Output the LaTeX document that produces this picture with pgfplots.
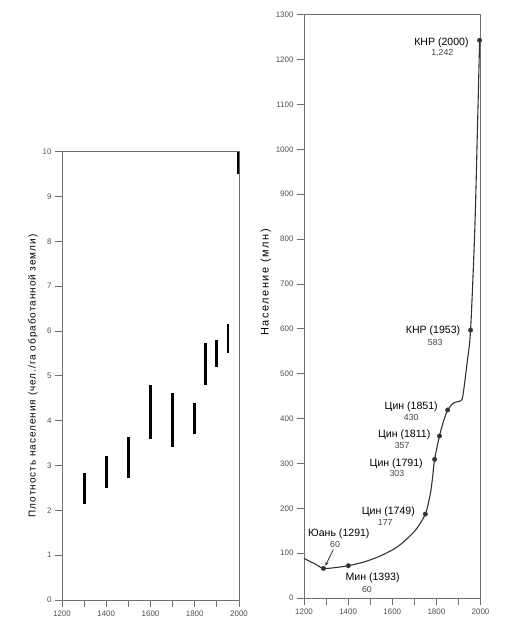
\documentclass[border=0pt]{standalone}
\usepackage{fontspec}
\setmainfont{Liberation Sans}
\newfontfamily\labfont[LetterSpace=10]{Liberation Sans}
\newfontfamily\labfontb[LetterSpace=14]{Liberation Sans}
\usepackage{pgfplots}
\pgfplotsset{compat=1.18}
\usetikzlibrary{arrows.meta}
\definecolor{axgray}{HTML}{707070}
\definecolor{tickgray}{HTML}{505050}
\definecolor{curvegray}{HTML}{333333}
\definecolor{valgray}{HTML}{444444}
\pgfplotsset{
  myaxis/.style={
    scale only axis,
    axis line style={draw=axgray, line width=0.8bp},
    tick style={draw=axgray, line width=0.8bp},
    tick align=outside,
    major tick length=7bp,
    xtick pos=bottom, ytick pos=left,
    ticklabel style={font=\fontsize{8}{9}\selectfont, text=tickgray},
    /pgf/number format/1000 sep={},
    /pgf/number format/assume math mode=true,
    xmin=1200, xmax=2000,
    xtick={1200,1300,...,2000},
    xticklabels={1200,,1400,,1600,,1800,,2000},
  }
}
\newcommand{\lab}[4]{%
  \node[font=\fontsize{10.6}{11}\selectfont, text=black] at (axis cs:#1) {#2};
  \node[font=\fontsize{8.8}{9}\selectfont, text=valgray] at (axis cs:#3) {#4};}
\begin{document}
\begin{tikzpicture}[x=1bp,y=1bp]
\useasboundingbox (0,0) rectangle (508,622);
% ---------- left: density ----------
\begin{axis}[myaxis,
  at={(62bp,22bp)}, anchor=south west,
  width=177bp, height=448.3bp,
  ymin=0, ymax=10, ytick={0,1,...,10},
  ylabel={\labfont Плотность населения (чел./га обработанной земли)},
  ylabel style={at={(axis description cs:-0.164,0.5)}, anchor=center, font=\fontsize{10}{11}\selectfont},
]
\addplot[black, line width=2.8bp, no marks] coordinates {(1300,2.15) (1300,2.83)};
\addplot[black, line width=2.8bp, no marks] coordinates {(1400,2.49) (1400,3.22)};
\addplot[black, line width=2.8bp, no marks] coordinates {(1500,2.73) (1500,3.64)};
\addplot[black, line width=2.8bp, no marks] coordinates {(1600,3.59) (1600,4.79)};
\addplot[black, line width=2.8bp, no marks] coordinates {(1700,3.42) (1700,4.62)};
\addplot[black, line width=2.8bp, no marks] coordinates {(1800,3.70) (1800,4.39)};
\addplot[black, line width=2.8bp, no marks] coordinates {(1850,4.80) (1850,5.73)};
\addplot[black, line width=2.8bp, no marks] coordinates {(1900,5.20) (1900,5.81)};
\addplot[black, line width=2.8bp, no marks] coordinates {(1950,5.51) (1950,6.15)};
\addplot[black, line width=2.8bp, no marks] coordinates {(1996,9.50) (1996,10.00)};
\end{axis}
% ---------- right: population ----------
\begin{axis}[myaxis,
  at={(304bp,24bp)}, anchor=south west,
  width=176.5bp, height=583.3bp,
  ymin=0, ymax=1300, ytick={0,100,...,1300},
  ylabel={\labfontb Население (млн)},
  ylabel style={at={(axis description cs:-0.216,0.541)}, anchor=center, font=\fontsize{11}{12}\selectfont},
  clip=false,
]
\addplot[smooth, tension=0.45, color=curvegray, line width=1.1bp, no marks] coordinates {
 (1200,88) (1250,76) (1288,66) (1345,68) (1401,72) (1470,80) (1538,92) (1600,107)
 (1644,122) (1705,151) (1750,187) (1773,233) (1783,270) (1792,309) (1814,361)
 (1833,395) (1851,419) (1879,435) (1914,441) (1924,464) (1939,523) (1955,597)
 (1974,820) (1986,1043) (1996,1243)};
\addplot[only marks, mark=*, mark size=2.2bp, color=curvegray] coordinates {
 (1288,66) (1401,72) (1750,187) (1792,309) (1814,361) (1851,419) (1955,597) (1996,1243)};
\lab{1823,1238}{КНР (2000)}{1827,1214}{1,242}
\lab{1785,595}{КНР (1953)}{1795,570}{583}
\lab{1686,426}{Цин (1851)}{1686,403}{430}
\lab{1654,363}{Цин (1811)}{1645,340}{357}
\lab{1618,300}{Цин (1791)}{1621,278}{303}
\lab{1582,192}{Цин (1749)}{1568,168}{177}
\lab{1358,144}{Юань (1291)}{1341,120}{60}
\lab{1511,44}{Мин (1393)}{1485,20}{60}
\draw[curvegray, line width=0.8bp, -{Stealth[length=4bp,width=3.5bp]}] (axis cs:1333,108) -- (axis cs:1297,72);
\end{axis}
\end{tikzpicture}
\end{document}
